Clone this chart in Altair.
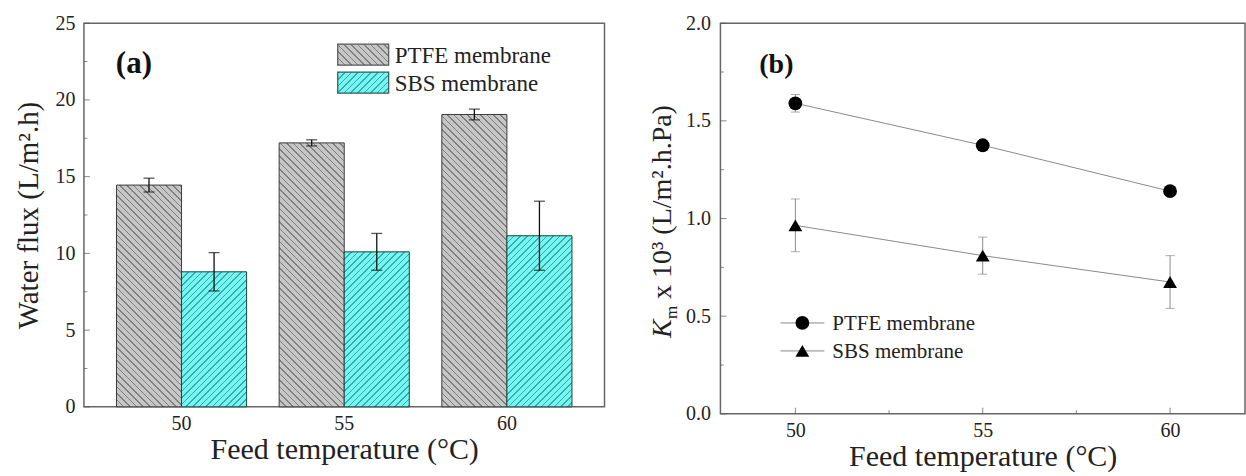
import altair as alt
import pandas as pd

# ---------------- data ----------------
temps = [50, 55, 60]
temp_labels = ["50", "55", "60"]
membranes = ["PTFE membrane", "SBS membrane"]

ptfe_flux = [14.45, 17.2, 19.05]
ptfe_flux_err = [0.45, 0.2, 0.35]
sbs_flux = [8.8, 10.1, 11.15]
sbs_flux_err = [1.25, 1.2, 2.25]

ptfe_km = [1.59, 1.375, 1.14]
ptfe_km_err = [0.045, 0.012, 0.012]
sbs_km = [0.965, 0.81, 0.675]
sbs_km_err = [0.135, 0.095, 0.135]

flux_ticks = [0, 5, 10, 15, 20, 25]
flux_minor = [2.5, 7.5, 12.5, 17.5, 22.5]
km_ticks = [0.0, 0.5, 1.0, 1.5, 2.0]
km_minor = [0.25, 0.75, 1.25, 1.75]
temp_minor = [52.5, 57.5]

# ---------------- styling ----------------
FONT = "Liberation Serif"
LW, LH = 521, 384
RW, RH = 525, 391
FLUX_MAX = 25
PAD_INNER, PAD_OUTER = 0.2, 0.2

PTFE_LIGHT, PTFE_DARK, PTFE_EDGE = "#c6c6c6", "#808080", "#3a3a3a"
SBS_LIGHT, SBS_DARK, SBS_EDGE = "#74f6f3", "#3aaaaa", "#1d4242"
PERIOD, DARKW = 6.6, 1.6


def hatch(w, h, light, dark, back):
    """Linear gradient with hard stops, imitating 45-degree hatching."""
    L = w + h
    s = L * w / (w * w + h * h)
    if back:
        x1, y1, x2, y2 = 0, 1, s, 1 - s * h / w
    else:
        x1, y1, x2, y2 = 0, 0, s, s * h / w
    stops = []
    q = 0.0
    while q < L:
        a = q / L
        b = min(q + DARKW, L) / L
        c = min(q + PERIOD, L) / L
        stops += [
            {"offset": a, "color": dark},
            {"offset": b, "color": dark},
            {"offset": b, "color": light},
            {"offset": c, "color": light},
        ]
        q += PERIOD
    return {"gradient": "linear", "x1": x1, "y1": y1, "x2": x2, "y2": y2, "stops": stops}


rows = []
for i, t in enumerate(temp_labels):
    rows.append({"temp": t, "membrane": membranes[0], "flux": ptfe_flux[i],
                 "lo": ptfe_flux[i] - ptfe_flux_err[i], "hi": ptfe_flux[i] + ptfe_flux_err[i]})
    rows.append({"temp": t, "membrane": membranes[1], "flux": sbs_flux[i],
                 "lo": sbs_flux[i] - sbs_flux_err[i], "hi": sbs_flux[i] + sbs_flux_err[i]})
bars = pd.DataFrame(rows)

XTITLE = "Feed temperature (°C)"
YLTITLE = "Water flux (L/m².h)"

xl_scale = alt.Scale(domain=temp_labels, paddingInner=PAD_INNER, paddingOuter=PAD_OUTER)
xo_scale = alt.Scale(domain=membranes, paddingInner=0, paddingOuter=0)
yl_scale = alt.Scale(domain=[0, FLUX_MAX], nice=False, zero=True)

xl_axis = alt.Axis(title=XTITLE, labelAngle=0, ticks=False, tickSize=0, titleFontSize=30,
                   domain=False, labelPadding=7, titlePadding=1)
yl_axis = alt.Axis(title=YLTITLE, values=flux_ticks, format="d", ticks=False,
                   tickSize=0, domain=False, grid=False, labelPadding=9, titlePadding=11)

x_left = alt.X("temp:N", scale=xl_scale, sort=temp_labels, axis=xl_axis, title=XTITLE)


def yl(field):
    return alt.Y(field, scale=yl_scale, axis=yl_axis, title=YLTITLE)


xoff = alt.XOffset("membrane:N", scale=xo_scale)

step = LW / (len(temp_labels) - PAD_INNER + 2 * PAD_OUTER)
bar_w = step * (1 - PAD_INNER) / 2

layers = []
for m, light, dark, edge, back in [
    (membranes[0], PTFE_LIGHT, PTFE_DARK, PTFE_EDGE, True),
    (membranes[1], SBS_LIGHT, SBS_DARK, SBS_EDGE, False),
]:
    for t in temp_labels:
        v = float(bars[(bars.membrane == m) & (bars.temp == t)].flux.iloc[0])
        h = v / FLUX_MAX * LH
        layers.append(
            alt.Chart(bars).transform_filter(
                (alt.datum.membrane == m) & (alt.datum.temp == t)
            ).mark_bar(fill=hatch(bar_w, h, light, dark, back), stroke=edge, strokeWidth=1)
            .encode(x=x_left, xOffset=xoff, y=yl("flux:Q"))
        )

err_rule = alt.Chart(bars).mark_rule(color="#111", strokeWidth=1.3).encode(
    x=x_left, xOffset=xoff, y=yl("lo:Q"), y2="hi:Q")
cap_lo = alt.Chart(bars).mark_tick(orient="horizontal", size=11, thickness=1.3, color="#111").encode(
    x=x_left, xOffset=xoff, y=yl("lo:Q"))
cap_hi = alt.Chart(bars).mark_tick(orient="horizontal", size=11, thickness=1.3, color="#111").encode(
    x=x_left, xOffset=xoff, y=yl("hi:Q"))

ltick_major = alt.Chart(pd.DataFrame({"flux": flux_ticks})).mark_tick(
    orient="horizontal", size=6, thickness=1, color="#555").encode(
    x=alt.value(3), y=yl("flux:Q"))
ltick_minor = alt.Chart(pd.DataFrame({"flux": flux_minor})).mark_tick(
    orient="horizontal", size=3.5, thickness=1, color="#555").encode(
    x=alt.value(1.75), y=yl("flux:Q"))

one = alt.Data(values=[{"k": 0}])
leg_w, leg_h = 51, 21
leg_left = []
for m, light, dark, edge, back, y0 in [
    (membranes[0], PTFE_LIGHT, PTFE_DARK, "#555", True, 21),
    (membranes[1], SBS_LIGHT, SBS_DARK, "#2a5a5a", False, 49),
]:
    leg_left.append(alt.Chart(one).mark_rect(fill=hatch(leg_w, leg_h, light, dark, back),
                                             stroke=edge, strokeWidth=1.2).encode(
        x=alt.value(254), x2=alt.value(254 + leg_w), y=alt.value(y0), y2=alt.value(y0 + leg_h)))
    leg_left.append(alt.Chart(one).mark_text(font=FONT, fontSize=23, align="left", baseline="middle",
                                             color="#222").encode(
        x=alt.value(311), y=alt.value(y0 + leg_h / 2 + 1), text=alt.value(m)))

label_a = alt.Chart(one).mark_text(font=FONT, fontSize=31, fontWeight="bold", color="#111",
                                   baseline="middle").encode(
    x=alt.value(50), y=alt.value(41), text=alt.value("(a)"))

left = alt.layer(*layers, err_rule, cap_lo, cap_hi, ltick_major, ltick_minor, *leg_left, label_a).properties(
    width=LW, height=LH)

# ---------------- right panel ----------------
krows = []
for i, t in enumerate(temps):
    krows.append({"temp": t, "membrane": membranes[0], "km": ptfe_km[i],
                  "lo": ptfe_km[i] - ptfe_km_err[i], "hi": ptfe_km[i] + ptfe_km_err[i]})
    krows.append({"temp": t, "membrane": membranes[1], "km": sbs_km[i],
                  "lo": sbs_km[i] - sbs_km_err[i], "hi": sbs_km[i] + sbs_km_err[i]})
kdf = pd.DataFrame(krows)

KTITLE = "Km x 10³ (L/m².h.Pa)"   # reserves the space; drawn below with styled pieces
xr_scale = alt.Scale(domain=[48, 62], nice=False, zero=False)
yr_scale = alt.Scale(domain=[0, 2], nice=False)
xr_axis = alt.Axis(title=XTITLE, values=temps, format="d", ticks=False, tickSize=0, titleFontSize=30,
                   domain=False, grid=False, labelPadding=7, titlePadding=1)
yr_axis = alt.Axis(title=KTITLE, values=km_ticks, format=".1f", ticks=False, titleOpacity=0,
                   tickSize=0, domain=False, grid=False, labelPadding=10, titlePadding=18)


def xr(field):
    return alt.X(field, scale=xr_scale, axis=xr_axis, title=XTITLE)


def yr(field):
    return alt.Y(field, scale=yr_scale, axis=yr_axis, title=KTITLE)


shape_scale = alt.Scale(domain=membranes, range=["circle", "triangle-up"])
GREY = "#8a8a8a"
MSIZE = 190

kline = alt.Chart(kdf).mark_line(color=GREY, strokeWidth=1).encode(
    x=xr("temp:Q"), y=yr("km:Q"), detail="membrane:N")
krule = alt.Chart(kdf).mark_rule(color=GREY, strokeWidth=1).encode(
    x=xr("temp:Q"), y=yr("lo:Q"), y2="hi:Q")
kcap_lo = alt.Chart(kdf).mark_tick(orient="horizontal", size=9, thickness=1, color=GREY).encode(
    x=xr("temp:Q"), y=yr("lo:Q"))
kcap_hi = alt.Chart(kdf).mark_tick(orient="horizontal", size=9, thickness=1, color=GREY).encode(
    x=xr("temp:Q"), y=yr("hi:Q"))
kpts = alt.Chart(kdf).mark_point(filled=True, size=MSIZE, color="#000", opacity=1).encode(
    x=xr("temp:Q"), y=yr("km:Q"), shape=alt.Shape("membrane:N", scale=shape_scale, legend=None))

rtick_major = alt.Chart(pd.DataFrame({"km": km_ticks})).mark_tick(
    orient="horizontal", size=6, thickness=1, color="#555").encode(
    x=alt.value(3), y=yr("km:Q"))
rtick_minor = alt.Chart(pd.DataFrame({"km": km_minor})).mark_tick(
    orient="horizontal", size=3.5, thickness=1, color="#555").encode(
    x=alt.value(1.75), y=yr("km:Q"))
xtick_major = alt.Chart(pd.DataFrame({"temp": temps})).mark_tick(
    orient="vertical", size=6, thickness=1, color="#555").encode(
    y=alt.value(RH - 3), x=xr("temp:Q"))
xtick_minor = alt.Chart(pd.DataFrame({"temp": temp_minor})).mark_tick(
    orient="vertical", size=3.5, thickness=1, color="#555").encode(
    y=alt.value(RH - 1.75), x=xr("temp:Q"))

leg_right = []
for m, shp, y0 in [(membranes[0], "circle", 300), (membranes[1], "triangle-up", 328)]:
    leg_right.append(alt.Chart(one).mark_rule(color=GREY, strokeWidth=1).encode(
        x=alt.value(60), x2=alt.value(104), y=alt.value(y0)))
    leg_right.append(alt.Chart(one).mark_point(shape=shp, filled=True, size=MSIZE, color="#000", opacity=1).encode(
        x=alt.value(82), y=alt.value(y0)))
    leg_right.append(alt.Chart(one).mark_text(font=FONT, fontSize=21, align="left", baseline="middle",
                                              color="#222").encode(
        x=alt.value(112), y=alt.value(y0 + 1), text=alt.value(m)))

label_b = alt.Chart(one).mark_text(font=FONT, fontSize=28, fontWeight="bold", color="#111",
                                   baseline="middle").encode(
    x=alt.value(56), y=alt.value(42), text=alt.value("(b)"))

# styled y-axis title of panel (b): italic K, subscript m, then the rest
TX, TY = -49, 315
ktitle = [
    alt.Chart(one).mark_text(font=FONT, fontSize=28, fontStyle="italic", angle=270, align="left",
                             baseline="alphabetic", color="#222").encode(
        x=alt.value(TX), y=alt.value(TY), text=alt.value("K")),
    alt.Chart(one).mark_text(font=FONT, fontSize=17, angle=270, align="left",
                             baseline="alphabetic", color="#222").encode(
        x=alt.value(TX + 6), y=alt.value(TY - 19), text=alt.value("m")),
    alt.Chart(one).mark_text(font=FONT, fontSize=28, angle=270, align="left",
                             baseline="alphabetic", color="#222").encode(
        x=alt.value(TX), y=alt.value(TY - 39), text=alt.value("x 10³ (L/m².h.Pa)")),
]

right = alt.layer(kline, krule, kcap_lo, kcap_hi, kpts, rtick_major, rtick_minor, xtick_major, xtick_minor,
                  *leg_right, label_b, *ktitle).properties(width=RW, height=RH)

chart = alt.hconcat(left, right, spacing=32).properties(
    padding={"left": 14, "top": 12, "right": 0, "bottom": 0},
    background="white",
).configure_view(stroke="#666", strokeWidth=1.5).configure_axis(
    labelFont=FONT, labelFontSize=20, labelColor="#222",
    titleFont=FONT, titleFontSize=29, titleFontWeight="normal", titleColor="#222",
).configure_concat(spacing=32)

chart.save("out.html", embed_options={"renderer": "svg", "actions": False})
